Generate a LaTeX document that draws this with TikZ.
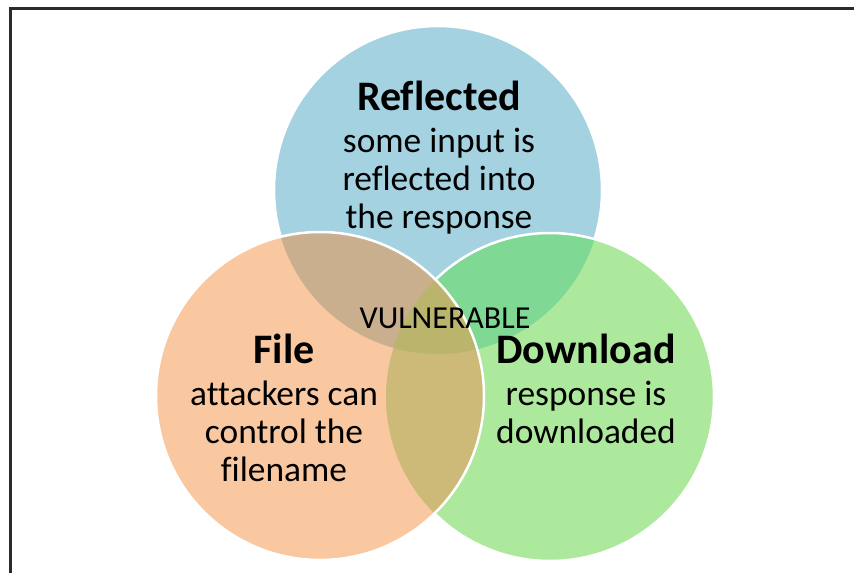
\documentclass[tikz,border=0pt]{standalone}
\usepackage{fontspec}
\setmainfont[Ligatures=NoCommon]{Carlito}
\definecolor{cblue}{HTML}{A5D2E1}
\definecolor{corange}{HTML}{F9C8A0}
\definecolor{cgreen}{HTML}{ADE99C}
\definecolor{cbo}{HTML}{C9AF8E}
\definecolor{cbg}{HTML}{7FD893}
\definecolor{cog}{HTML}{CDB978}
\definecolor{cbog}{HTML}{BAB46D}
\definecolor{frame}{HTML}{2A2A2A}
\tikzset{
  ring/.style={draw=white, line width=2.5pt},
  titletxt/.style={anchor=base, font=\fontsize{42}{42}\selectfont\bfseries},
  bodytxt/.style={anchor=base, font=\fontsize{35.4}{38}\selectfont},
  midtxt/.style={anchor=base, font=\fontsize{32}{32}\selectfont},
}
\begin{document}
\begin{tikzpicture}[x=1pt,y=-1pt]
\useasboundingbox (0,0) rectangle (854,573);
\fill[white] (0,0) rectangle (854,573);
% frame (left and top edges)
\draw[frame, line width=3pt] (10.5,573) -- (10.5,8.5) -- (854,8.5);
\coordinate (cb) at (438,190);
\coordinate (cg) at (550,397);
\coordinate (co) at (320,396);
% blue circle
\fill[cblue] (cb) circle[radius=164pt];
\draw[ring] (cb) circle[radius=164pt];
% green circle
\fill[cgreen] (cg) circle[radius=164pt];
\begin{scope}
  \clip (cb) circle[radius=164pt];
  \fill[cbg] (cg) circle[radius=164pt];
\end{scope}
\draw[ring] (cg) circle[radius=164pt];
% orange circle
\fill[corange] (co) circle[radius=164pt];
\begin{scope}
  \clip (cb) circle[radius=164pt];
  \fill[cbo] (co) circle[radius=164pt];
\end{scope}
\begin{scope}
  \clip (cg) circle[radius=164pt];
  \fill[cog] (co) circle[radius=164pt];
\end{scope}
\begin{scope}
  \clip (cb) circle[radius=164pt];
  \clip (cg) circle[radius=164pt];
  \fill[cbog] (co) circle[radius=164pt];
\end{scope}
\draw[ring] (co) circle[radius=164pt];
% texts
\node[titletxt] (rt) at (439,110) {Reflected};
\node[bodytxt] (r1) at (439,152) {some input is};
\node[bodytxt] (r2) at (439,190) {reflected into};
\node[bodytxt] (r3) at (439,228) {the response};
\node[titletxt] (ft) at (284,363) {File};
\node[bodytxt] (f1) at (284,405) {attackers can};
\node[bodytxt] (f2) at (284,443) {control the};
\node[bodytxt] (f3) at (284,481) {filename};
\node[titletxt] (dt) at (586,363) {Download};
\node[bodytxt] (d1) at (586,405) {response is};
\node[bodytxt] (d2) at (586,443) {downloaded};
\node[midtxt] (v) at (445,328) {VULNERABLE};
\end{tikzpicture}
\end{document}
